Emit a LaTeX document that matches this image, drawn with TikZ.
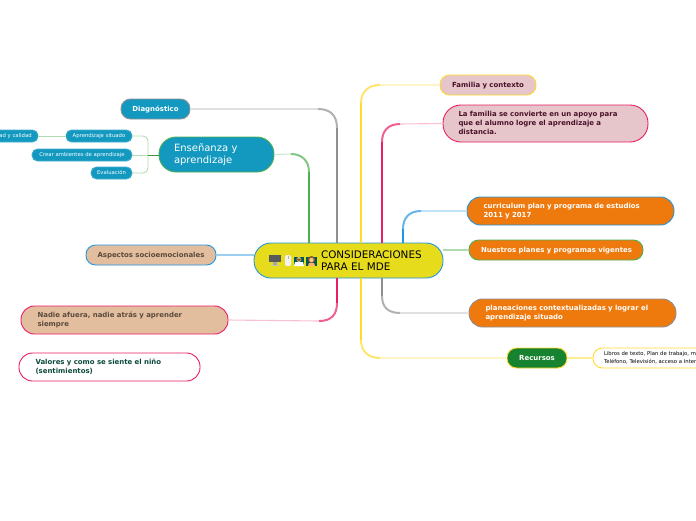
\documentclass[tikz,border=0pt]{standalone}
\usepackage{fontspec}
\setmainfont{DejaVu Sans}
\definecolor{cblue}{HTML}{1399BF}
\definecolor{cpeach}{HTML}{E2BE9F}
\definecolor{cpink}{HTML}{E6C6CB}
\definecolor{corange}{HTML}{EE7A0E}
\definecolor{cgreen}{HTML}{17822F}
\definecolor{cyel}{HTML}{E6DC1C}
\definecolor{lgray}{HTML}{8F8F93}
\definecolor{lgreen}{HTML}{4CAF50}
\definecolor{lblue}{HTML}{2196E3}
\definecolor{lred}{HTML}{E91E63}
\definecolor{lyel}{HTML}{FFD92E}
\definecolor{tbrown}{HTML}{5A4A3C}
\definecolor{tplum}{HTML}{4A1028}
\definecolor{tteal}{HTML}{0B4A3A}
\tikzset{
  x=1pt,y=-1pt,
  bxs/.style={draw,line width=.9pt,align=left,inner ysep=0pt,outer sep=0pt},
  tiny1/.style={font=\fontsize{5.3}{7}\selectfont,text=white,fill=cblue,draw=cblue!80!white},
  bold7/.style={font=\fontsize{6.95}{9}\selectfont\bfseries},
}
% name, x1, y1, x2, y2, style, left pad, text
\newcommand{\bx}[8]{%
  \pgfmathsetmacro{\bw}{#4-#2}\pgfmathsetmacro{\bh}{#5-#3}%
  \pgfmathsetmacro{\br}{\bh/2-.5}\pgfmathsetmacro{\tw}{\bw-2*#7}%
  \node[bxs,rounded corners=\br pt,minimum width=\bw pt,minimum height=\bh pt,
    text width=\tw pt,inner xsep=#7 pt,#6] (#1) at ({(#2+#4)/2},{(#3+#5)/2}) {\rule{0pt}{1em}#8\rule[-.42em]{0pt}{0pt}};}
% tapered connector: pale tail + mid-strength bend + strong trunk
\newcommand{\conn}[4]{% colour, trunk path, curve part, tail path
  \draw[#1!28!white,line width=1.1pt] #4;
  \draw[#1!70!white,line width=2pt] #3;
  \draw[#1,line width=2.8pt] #2;}
\begin{document}
\begin{tikzpicture}
\useasboundingbox (0,0) rectangle (696,520);
\clip (0,0) rectangle (696,520);
% nodes
\bx{main}{254}{243}{443}{278}{fill=cyel,draw=lblue,font=\fontsize{10.4}{12}\selectfont}{8}{\rule{0pt}{1.2em}\hspace*{59pt}CONSIDERACIONES\\\hspace*{59pt}PARA EL MDE}
\bx{diag}{121}{99}{190}{119}{fill=cblue,draw=lgray,text=white,bold7,align=center}{3}{Diagnóstico}
\bx{ens}{159}{137}{274}{172}{fill=cblue,draw=lgreen,text=white,font=\fontsize{10}{12.6}\selectfont}{15}{Enseñanza y\\aprendizaje}
\bx{apr}{66}{130}{132}{142}{tiny1,align=center}{1}{Aprendizaje situado}
\bx{cre}{32}{149}{132}{161}{tiny1,align=center}{1}{Crear ambientes de aprendizaje}
\bx{eva}{91}{167}{132}{179}{tiny1,align=center}{1}{Evaluación}
\bx{equ}{-22}{130}{38}{142}{tiny1,align=center}{1}{Equidad y calidad}
\bx{asp}{86}{245}{216}{265}{fill=cpeach,draw=lblue,text=tbrown,bold7,align=center}{3}{Aspectos socioemocionales}
\bx{nad}{21}{306}{228}{334}{fill=cpeach,draw=lred,text=tbrown,bold7}{16.5}{Nadie afuera, nadie atrás y aprender\\siempre}
\bx{val}{19}{353}{200}{381}{fill=white,draw=lred,text=tteal,bold7}{16.5}{Valores y como se siente el niño\\(sentimientos)}
\bx{fam}{440}{75}{536}{95}{fill=cpink,draw=lyel,text=tplum,bold7,align=center}{3}{Familia y contexto}
\bx{laf}{443}{105}{648}{142}{fill=cpink,draw=lred,text=tplum,bold7}{15.5}{La familia se convierte en un apoyo para\\que el alumno logre el aprendizaje a\\distancia.}
\bx{cur}{467}{197}{674}{225}{fill=corange,draw=lblue,text=white,bold7}{16.5}{curriculum plan y programa de estudios\\2011 y 2017}
\bx{nue}{469}{240}{643}{260}{fill=corange,draw=lgreen,text=white,bold7}{8}{\hspace*{4pt}Nuestros planes y programas vigentes}
\bx{pla}{469}{299}{676}{327}{fill=corange,draw=lgray,text=white,bold7}{16.5}{planeaciones contextualizadas y lograr el\\aprendizaje situado}
\bx{rec}{507}{348}{567}{368}{fill=cgreen,draw=lyel,text=white,bold7,align=center}{3}{Recursos}
\bx{lib}{593}{348}{830}{368}{fill=white,draw=lyel,text=black,font=\fontsize{5.3}{7.2}\selectfont}{11}{Libros de texto, Plan de trabajo, material\\Teléfono, Televisión, acceso a Internet}
% connectors
\conn{lgray}{(337,243) -- (337,128)}{(337,128) .. controls (337,115) and (330,109) .. (318,109)}{(318,109) -- (diag.east)}
\conn{lgreen}{(309,243) -- (309,172)}{(309,172) .. controls (309,161) and (302,154) .. (291,154)}{(291,154) -- (ens.east)}
\draw[lblue!45!white,line width=1.1pt] (asp.east) -- (main.west |- asp.east);
\conn{lred}{(337,278) -- (337,303)}{(337,303) .. controls (337,315) and (331,321) .. (319,321)}{(319,321) -- (nad.east)}
\conn{lyel}{(361,243) -- (361,103)}{(361,103) .. controls (361,92) and (368,85) .. (380,85)}{(380,85) -- (fam.west)}
\conn{lyel}{(361,278) -- (361,340)}{(361,340) .. controls (361,351) and (368,358) .. (380,358)}{(380,358) -- (rec.west)}
\conn{lred}{(382,243) -- (382,142)}{(382,142) .. controls (382,131) and (388,124) .. (400,124)}{(400,124) -- (laf.west)}
\conn{lblue}{(403,243) -- (403,229)}{(403,229) .. controls (403,218) and (409,211) .. (421,211)}{(421,211) -- (cur.west)}
\draw[lgreen!45!white,line width=1.1pt] (main.east |- nue.west) -- (nue.west);
\conn{lgray}{(382,278) -- (382,296)}{(382,296) .. controls (382,307) and (388,313) .. (400,313)}{(400,313) -- (pla.west)}
\draw[lyel!50!white,line width=1.1pt] (rec.east) -- (lib.west);
\draw[lgreen!45!white,line width=.9pt] (cre.east) -- (148,155);
\draw[lgreen!45!white,line width=.9pt] (apr.east) -- (143,136) .. controls (146,136) and (148,138) .. (148,141) -- (148,168) .. controls (148,171) and (146,173) .. (143,173) -- (eva.east);
\draw[lgreen!45!white,line width=.9pt] (equ.east) -- (apr.west);
\draw[lgreen!85!black,line width=.9pt] (ens.west |- cre.east) -- (148,155);
% icons in the central topic
\fill[black!65] (269,255) rectangle (281,262);
\fill[black!35] (273,262) rectangle (277,264.5);
\fill[black!25] (271,264.5) rectangle (279,266);
\fill[black!5,rounded corners=2pt] (285,255) rectangle (291,266);
\draw[black!30,line width=.3pt] (288,256) -- (288,259);
\fill[teal!70!black] (294,257) rectangle (304,266);
\fill[white] (295,262) -- (303,262) -- (304,266) -- (294,266) -- cycle;
\fill[orange!50!white] (299,259.5) circle (2.4);
\fill[brown!70!black] (296.6,258.5) arc (180:0:2.4) -- cycle;
\fill[teal!70!black] (306,257) rectangle (317,266);
\fill[brown!70!black] (311.5,259.5) circle (3.5);
\fill[orange!45!white] (311.5,260) circle (2.2);
\fill[orange!60!white] (308,266) -- (309,263) -- (314,263) -- (315,266) -- cycle;
\end{tikzpicture}
\end{document}
